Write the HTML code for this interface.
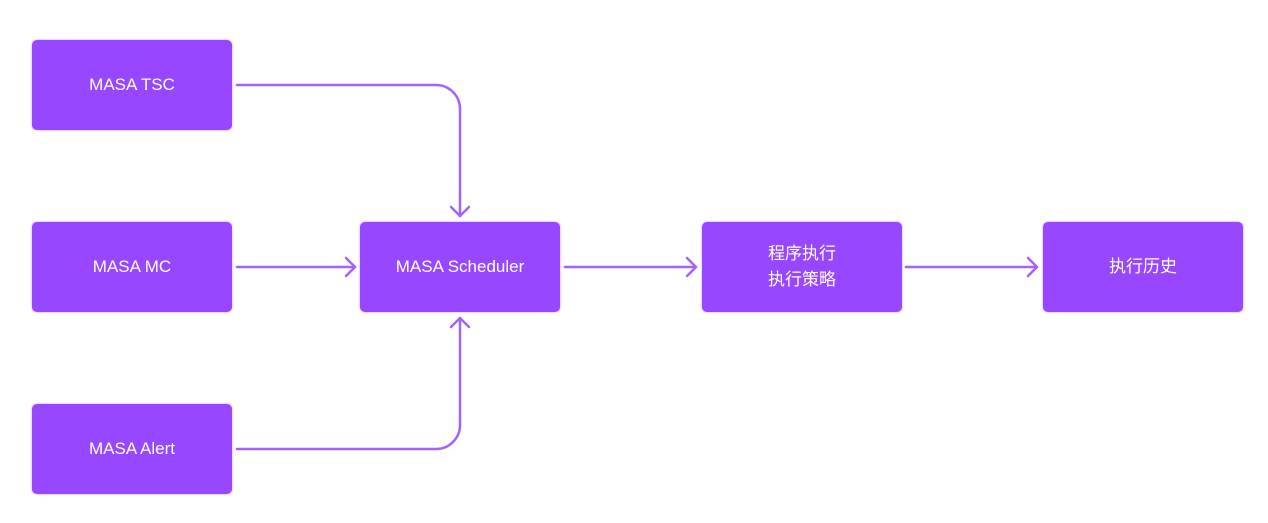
<!DOCTYPE html>
<html><head><meta charset="utf-8"><style>
html,body{margin:0;padding:0;background:#fff;}
body{width:1268px;height:523px;position:relative;overflow:hidden;font-family:"Liberation Sans","Noto Sans CJK SC",sans-serif;}
.b{position:absolute;width:200px;height:90px;background:#9747FF;border-radius:5px;color:#fff;font-size:17px;display:flex;align-items:center;justify-content:center;text-align:center;line-height:26px;box-shadow:0 0 2px rgba(151,71,255,.6);}
svg{position:absolute;left:0;top:0;}
</style></head><body>
<svg width="1268" height="523" fill="none" stroke="#A461FF" stroke-width="2.5" stroke-linecap="round" stroke-linejoin="round">
<path d="M237 85 H436 A24 24 0 0 1 460 109 V216"/>
<path d="M451 207 L460 216 L469 207"/>
<path d="M237 449 H436 A24 24 0 0 0 460 425 V318"/>
<path d="M451 327 L460 318 L469 327"/>
<path d="M237 267 H355"/><path d="M346 258 L355 267 L346 276"/>
<path d="M565 267 H696"/><path d="M687 258 L696 267 L687 276"/>
<path d="M906 267 H1037"/><path d="M1028 258 L1037 267 L1028 276"/>
</svg>
<div class="b" style="left:32px;top:40px">MASA TSC</div>
<div class="b" style="left:32px;top:222px">MASA MC</div>
<div class="b" style="left:32px;top:404px">MASA Alert</div>
<div class="b" style="left:360px;top:222px">MASA Scheduler</div>
<div class="b" style="left:702px;top:222px">程序执行<br>执行策略</div>
<div class="b" style="left:1043px;top:222px">执行历史</div>
</body></html>
